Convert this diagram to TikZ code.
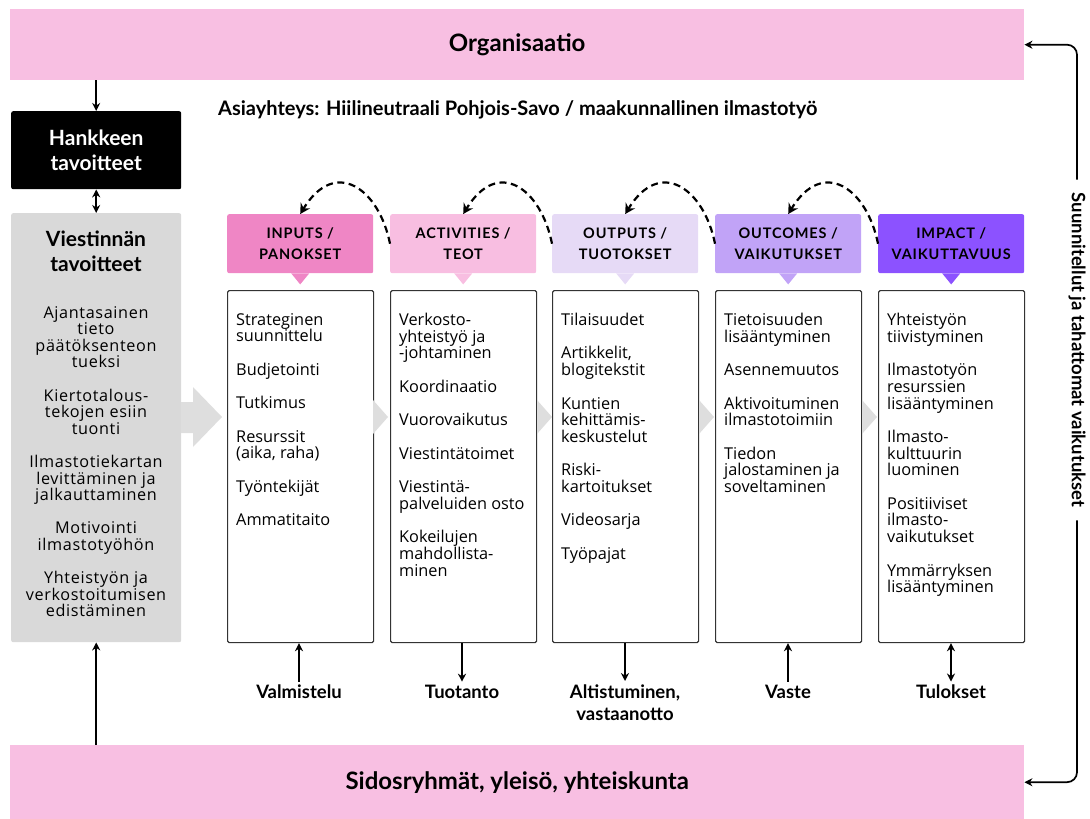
\documentclass[tikz,border=0pt]{standalone}
\usepackage{fontspec}
\setmainfont{Open Sans}
\newfontfamily\tfont{Lato}
\newfontfamily\hfont[LetterSpace=6]{Lato}
\newfontfamily\gfont[LetterSpace=4]{Open Sans}
\usetikzlibrary{arrows.meta}
\definecolor{bandpink}{HTML}{F8BFE2}
\definecolor{cin}{HTML}{EF86C5}
\definecolor{cact}{HTML}{F8BEE1}
\definecolor{cout}{HTML}{E6DAF6}
\definecolor{coc}{HTML}{C1A3F7}
\definecolor{cimp}{HTML}{8C52FF}
\definecolor{greyb}{HTML}{D9D9D9}
\definecolor{chev}{HTML}{DEDEDE}
\definecolor{edge}{HTML}{333333}
\tikzset{
  band/.style={fill=bandpink, minimum width=1014pt, anchor=north west, inner sep=0pt, font=\tfont\bfseries\fontsize{24}{28}\selectfont},
  hdr/.style={minimum width=146pt, minimum height=59pt, anchor=north west, rounded corners=2pt, inner sep=0pt, align=center, font=\hfont\bfseries\fontsize{14.5}{21}\selectfont},
  bodybox/.style={draw=edge, line width=1.2pt, minimum width=146pt, minimum height=352pt, anchor=north west, rounded corners=1.5pt, inner sep=0pt},
  bodytxt/.style={anchor=north west, inner sep=0pt, align=left, font=\fontsize{16.3}{16.7}\selectfont},
  arr/.style={line width=1.7pt, -{Stealth[length=8pt,width=8pt]}},
  darr/.style={line width=1.7pt, {Stealth[length=8pt,width=8pt]}-{Stealth[length=8pt,width=8pt]}},
  dasharr/.style={line width=2.2pt, dash pattern=on 7pt off 4.5pt, -{Stealth[length=10pt,width=11pt]}},
  lab/.style={font=\tfont\bfseries\fontsize{18.5}{22}\selectfont, align=center}
}
\begin{document}
\begin{tikzpicture}[x=1pt,y=-1pt]
\useasboundingbox (0,0) rectangle (1090,819);
% bands
\node[band, minimum height=71pt] (org) at (10,9) {Organisaatio};
\node[band, minimum height=74pt] (sid) at (10,745) {Sidosryhmät, yleisö, yhteiskunta};
% context line
\node[anchor=west, inner sep=0pt, font=\tfont\bfseries\fontsize{20}{22}\selectfont] (ctx) at (218,110) {Asiayhteys: Hiilineutraali Pohjois-Savo / maakunnallinen ilmastotyö};
% left column
\node[anchor=north west, minimum width=170pt, minimum height=78pt, fill=black, rounded corners=2pt, text=white, align=center, inner sep=0pt, font=\tfont\bfseries\fontsize{21}{25}\selectfont] (hank) at (11,111) {Hankkeen\\tavoitteet};
\node[anchor=north west, minimum width=170pt, minimum height=429pt, fill=greyb, rounded corners=2pt, inner sep=0pt] (vt) at (11,213) {};
\node[align=center, inner sep=0pt, font=\tfont\bfseries\fontsize{21}{25}\selectfont] (vtt) at (96,251) {Viestinnän\\tavoitteet};
\node[anchor=north, align=center, inner sep=0pt, font=\gfont\fontsize{16.2}{16.6}\selectfont] (vti) at (96,306) {Ajantasainen\\tieto\\päätöksenteon\\tueksi\\[16.6pt]Kiertotalous-\\tekojen esiin\\tuonti\\[16.6pt]Ilmastotiekartan\\levittäminen ja\\jalkauttaminen\\[16.6pt]Motivointi\\ilmastotyöhön\\[16.6pt]Yhteistyön ja\\verkostoitumisen\\edistäminen};
\draw[arr] (org.south -| hank.north) -- (hank.north);
\draw[darr] (hank.south) -- (vt.north);
\draw[arr] (sid.north -| vt.south) -- (vt.south);
% big grey arrow
\fill[chev] (181,402) -- (193,402) -- (193,387) -- (222,417) -- (193,447) -- (193,433) -- (181,433) -- cycle;
% headers
\node[hdr, fill=cin] (h1) at (227,214) {INPUTS /\\PANOKSET};
\node[hdr, fill=cact] (h2) at (390,214) {ACTIVITIES /\\TEOT};
\node[hdr, fill=cout] (h3) at (552,214) {OUTPUTS /\\TUOTOKSET};
\node[hdr, fill=coc] (h4) at (715,214) {OUTCOMES /\\VAIKUTUKSET};
\node[hdr, fill=cimp] (h5) at (878,214) {IMPACT /\\VAIKUTTAVUUS};
\foreach \h/\c in {h1/cin,h2/cact,h3/cout,h4/coc,h5/cimp}{
  \fill[\c] ([xshift=-9pt]\h.south) -- ([xshift=9pt]\h.south) -- ([yshift=-11pt]\h.south) -- cycle;
}
% dashed feedback arrows
\draw[dasharr] (h2.west) .. controls +(-11,-55) and +(35,-57) .. (h1.north);
\draw[dasharr] (h3.west) .. controls +(-11,-55) and +(35,-57) .. (h2.north);
\draw[dasharr] (h4.west) .. controls +(-11,-55) and +(35,-57) .. (h3.north);
\draw[dasharr] (h5.west) .. controls +(-11,-55) and +(35,-57) .. (h4.north);
% body boxes
\node[bodybox] (b1) at (227,290) {};
\node[bodybox] (b2) at (390,290) {};
\node[bodybox] (b3) at (552,290) {};
\node[bodybox] (b4) at (715,290) {};
\node[bodybox] (b5) at (878,290) {};
% chevrons
\foreach \xa in {373,537,699,862}{
  \fill[chev] (\xa,400) -- (\xa+15,417) -- (\xa,434) -- cycle;
}
\node[bodytxt] (t1) at (236,313) {Strateginen\\suunnittelu\\[16.7pt]Budjetointi\\[16.7pt]Tutkimus\\[16.7pt]Resurssit\\(aika, raha)\\[16.7pt]Työntekijät\\[16.7pt]Ammatitaito};
\node[bodytxt] (t2) at (399,313) {Verkosto-\\yhteistyö ja\\-johtaminen\\[16.7pt]Koordinaatio\\[16.7pt]Vuorovaikutus\\[16.7pt]Viestintätoimet\\[16.7pt]Viestintä-\\palveluiden osto\\[16.7pt]Kokeilujen\\mahdollista-\\minen};
\node[bodytxt] (t3) at (561,313) {Tilaisuudet\\[16.7pt]Artikkelit,\\blogitekstit\\[16.7pt]Kuntien\\kehittämis-\\keskustelut\\[16.7pt]Riski-\\kartoitukset\\[16.7pt]Videosarja\\[16.7pt]Työpajat};
\node[bodytxt] (t4) at (724,313) {Tietoisuuden\\lisääntyminen\\[16.7pt]Asennemuutos\\[16.7pt]Aktivoituminen\\ilmastotoimiin\\[16.7pt]Tiedon\\jalostaminen ja\\soveltaminen};
\node[bodytxt] (t5) at (887,313) {Yhteistyön\\tiivistyminen\\[16.7pt]Ilmastotyön\\resurssien\\lisääntyminen\\[16.7pt]Ilmasto-\\kulttuurin\\luominen\\[16.7pt]Positiiviset\\ilmasto-\\vaikutukset\\[16.7pt]Ymmärryksen\\lisääntyminen};
% bottom labels
\node[lab] (l1) at (299,692) {Valmistelu};
\node[lab] (l2) at (462,692) {Tuotanto};
\node[lab, anchor=north] (l3) at (625,681) {Altistuminen,\\vastaanotto};
\node[lab] (l4) at (788,692) {Vaste};
\node[lab] (l5) at (951,692) {Tulokset};
\draw[arr] (l1.north) -- (b1.south -| l1.north);
\draw[arr] (b2.south -| l2.north) -- (l2.north);
\draw[arr] (b3.south -| l3.north) -- (l3.north);
\draw[arr] (l4.north) -- (b4.south -| l4.north);
\draw[darr] (b5.south -| l5.north) -- (l5.north);
% side feedback
\node[rotate=-90, inner xsep=13pt, inner ysep=0pt, font=\tfont\bfseries\fontsize{18.5}{22}\selectfont] (side) at (1077,350) {Suunnitellut ja tahattomat vaikutukset};
\draw[arr, rounded corners=10pt] (side.west) |- (org.east);
\draw[arr, rounded corners=10pt] (side.east) |- (sid.east);
\end{tikzpicture}
\end{document}
